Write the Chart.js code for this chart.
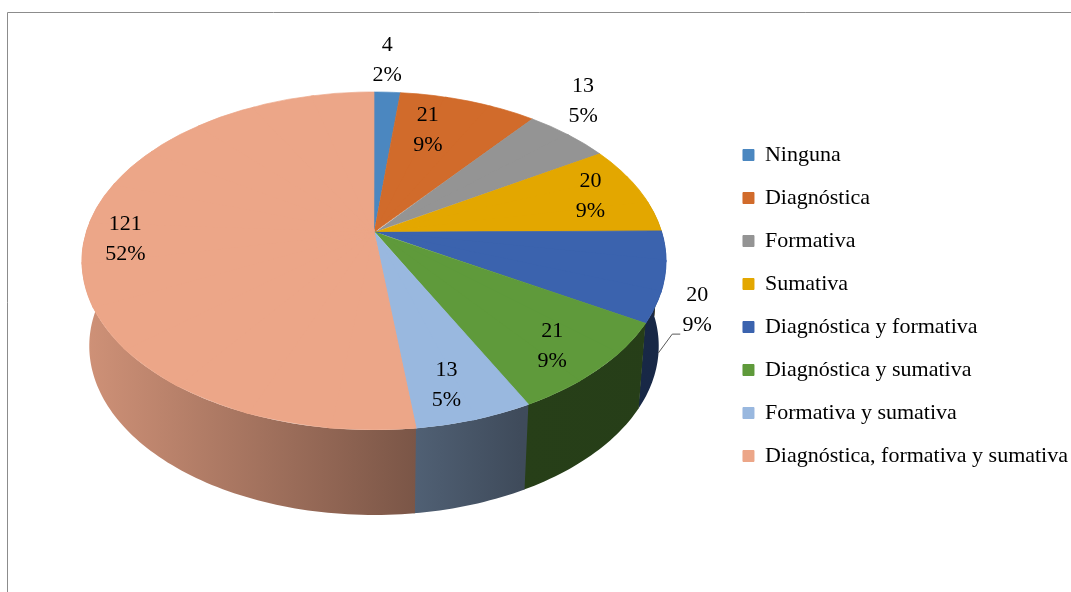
<!DOCTYPE html>
<html>
<head>
<meta charset="utf-8">
<script src="https://cdn.jsdelivr.net/npm/chart.js@4.4.1/dist/chart.umd.min.js"></script>
<style>
  html, body { margin: 0; padding: 0; background: #fff; }
  #wrap { width: 1071px; height: 592px; }
</style>
</head>
<body>
<div id="wrap"><canvas id="chart" width="1071" height="592"></canvas></div>
<script>
const categories = [
  "Ninguna",
  "Diagnóstica",
  "Formativa",
  "Sumativa",
  "Diagnóstica y formativa",
  "Diagnóstica y sumativa",
  "Formativa y sumativa",
  "Diagnóstica, formativa y sumativa",
]
const counts = [4, 21, 13, 20, 20, 21, 13, 121]
const percentLabels = ["2%", "9%", "5%", "9%", "9%", "9%", "5%", "52%"]
const sliceColors = ["#4b87c0", "#d16b2b", "#949494", "#e3a700", "#3b63ae", "#5f9a3b", "#99b8df", "#eca688"]

// tilted disc the flat pie is laid onto (fake 3D with perspective)
const disc = { cx: 374, cy: 232, rx: 287.7, ry: 164, persp: 0.1716, depth: 85, bottomScale: 0.975 }

// where each data label sits: radial fraction on the top face (or on the side wall) plus a nudge
const labelPlacement = [
  { f: 1, dx: 0, dy: -32 },
  { f: 0.8, dx: -24, dy: 6 },
  { f: 1, dx: 15, dy: -33 },
  { f: 0.8, dx: 3, dy: -1 },
  { side: 0.9, dx: 39, dy: -43, leader: true },
  { f: 0.8, dx: 3, dy: 8 },
  { f: 0.8, dx: -5, dy: 9 },
  { f: 0.8, dx: -17, dy: -1 },
]

function topPoint(angle, f = 1) {
  const u = f * Math.cos(angle)
  const v = f * Math.sin(angle)
  const d = 1 - disc.persp * v
  return { x: disc.cx + disc.rx * u / d, y: disc.cy + disc.ry * v / d }
}

function bottomPoint(angle) {
  const p = topPoint(angle)
  return { x: disc.cx + (p.x - disc.cx) * disc.bottomScale, y: p.y + disc.depth }
}

function shade(hex, k) {
  const n = parseInt(hex.slice(1), 16)
  const r = Math.round(((n >> 16) & 255) * k)
  const g = Math.round(((n >> 8) & 255) * k)
  const b = Math.round((n & 255) * k)
  return `rgb(${r}, ${g}, ${b})`
}

function drawSides(ctx, arcs) {
  const lo = -10 * Math.PI / 180
  const hi = 190 * Math.PI / 180
  arcs.forEach((arc, i) => {
    const a1 = Math.max(arc.startAngle, lo)
    // overlap the next piece a little so no light seam shows between walls
    const a2 = Math.min(arc.endAngle + 0.004, hi)
    if (a2 <= a1) return
    const steps = Math.max(2, Math.ceil((a2 - a1) / 0.02))
    ctx.beginPath()
    for (let s = 0; s <= steps; s++) {
      const p = topPoint(a1 + (a2 - a1) * s / steps)
      if (s === 0) ctx.moveTo(p.x, p.y)
      else ctx.lineTo(p.x, p.y)
    }
    for (let s = steps; s >= 0; s--) {
      const p = bottomPoint(a1 + (a2 - a1) * s / steps)
      ctx.lineTo(p.x, p.y)
    }
    ctx.closePath()
    const c = sliceColors[i]
    const grad = ctx.createLinearGradient(disc.cx - 292, 0, disc.cx + 292, 0)
    grad.addColorStop(0, shade(c, 0.88))
    grad.addColorStop(0.57, shade(c, 0.52))
    grad.addColorStop(0.75, shade(c, 0.41))
    grad.addColorStop(1, shade(c, 0.4))
    ctx.fillStyle = grad
    ctx.fill()
  })
}

// every slice is drawn by its own arc element, cut in narrow wedges,
// each wedge mapped with an affine transform onto the tilted disc
function drawTop(ctx, arcs) {
  const maxStep = 15 * Math.PI / 180
  const eps = 0.006
  arcs.forEach((arc) => {
    const { x: ox, y: oy, startAngle, endAngle, outerRadius: R } =
      arc.getProps(["x", "y", "startAngle", "endAngle", "outerRadius"], true)
    const n = Math.max(1, Math.ceil((endAngle - startAngle) / maxStep))
    const step = (endAngle - startAngle) / n
    for (let k = 0; k < n; k++) {
      const b1 = startAngle + k * step
      const b2 = b1 + step
      const p1 = topPoint(b1)
      const p2 = topPoint(b2)
      const e1x = p1.x - disc.cx, e1y = p1.y - disc.cy
      const e2x = p2.x - disc.cx, e2y = p2.y - disc.cy
      const d1x = R * Math.cos(b1), d1y = R * Math.sin(b1)
      const d2x = R * Math.cos(b2), d2y = R * Math.sin(b2)
      const det = d1x * d2y - d2x * d1y
      const a = (e1x * d2y - e2x * d1y) / det
      const c = (e2x * d1x - e1x * d2x) / det
      const b = (e1y * d2y - e2y * d1y) / det
      const d = (e2y * d1x - e1y * d2x) / det

      // clip apex sits a few px behind the centre so neighbouring wedges overlap there too
      const bm = (b1 + b2) / 2
      ctx.save()
      ctx.beginPath()
      ctx.moveTo(disc.cx - 4 * Math.cos(bm), disc.cy - 4 * Math.sin(bm))
      ;[b1 - eps, bm, b2 + eps].forEach((t) => {
        const p = topPoint(t, 1.3)
        ctx.lineTo(p.x, p.y)
      })
      ctx.closePath()
      ctx.clip()
      ctx.transform(a, b, c, d, disc.cx - (a * ox + c * oy), disc.cy - (b * ox + d * oy))
      arc.draw(ctx)
      ctx.restore()
    }
  })
}

function drawLabels(ctx, arcs) {
  ctx.save()
  ctx.font = '22px "Liberation Serif"'
  ctx.fillStyle = "#000"
  ctx.textAlign = "center"
  ctx.textBaseline = "middle"
  arcs.forEach((arc, i) => {
    const mid = (arc.startAngle + arc.endAngle) / 2
    const pl = labelPlacement[i]
    let anchor
    if (pl.side != null) {
      const t = topPoint(mid)
      const bt = bottomPoint(mid)
      anchor = { x: t.x + (bt.x - t.x) * pl.side, y: t.y + (bt.y - t.y) * pl.side }
    } else {
      anchor = topPoint(mid, pl.f)
    }
    const lx = anchor.x + pl.dx
    const ly = anchor.y + pl.dy
    if (pl.leader) {
      ctx.strokeStyle = "#595959"
      ctx.lineWidth = 1
      ctx.beginPath()
      ctx.moveTo(anchor.x, anchor.y)
      ctx.lineTo(lx - 25, ly + 24)
      ctx.lineTo(lx - 17, ly + 24)
      ctx.stroke()
    }
    ctx.fillText(String(counts[i]), lx, ly - 15)
    ctx.fillText(percentLabels[i], lx, ly + 15)
  })
  ctx.restore()
}

const pie3d = {
  id: "pie3d",
  beforeDraw(chart) {
    const ctx = chart.ctx
    ctx.save()
    ctx.fillStyle = "#fff"
    ctx.fillRect(0, 0, chart.width, chart.height)
    ctx.strokeStyle = "#8c8c8c"
    ctx.lineWidth = 1
    ctx.beginPath()
    ctx.moveTo(7.5, chart.height)
    ctx.lineTo(7.5, 12.5)
    ctx.lineTo(chart.width, 12.5)
    ctx.stroke()
    ctx.restore()
  },
  beforeDatasetsDraw(chart) {
    const ctx = chart.ctx
    const arcs = chart.getDatasetMeta(0).data
    drawSides(ctx, arcs)
    drawTop(ctx, arcs)
    drawLabels(ctx, arcs)
    return false
  },
}

new Chart(document.getElementById("chart"), {
  type: "pie",
  data: {
    labels: categories,
    datasets: [
      {
        data: counts,
        backgroundColor: sliceColors,
        borderColor: sliceColors,
        borderWidth: 1,
      },
    ],
  },
  options: {
    responsive: false,
    animation: false,
    devicePixelRatio: 1,
    layout: { padding: { top: 19, right: -7 } },
    plugins: {
      tooltip: { enabled: false },
      legend: {
        position: "right",
        labels: {
          color: "#000",
          font: { family: "Liberation Serif", size: 22 },
          boxWidth: 11,
          boxHeight: 11,
          padding: 21,
        },
      },
    },
  },
  plugins: [pie3d],
})
</script>
</body>
</html>
